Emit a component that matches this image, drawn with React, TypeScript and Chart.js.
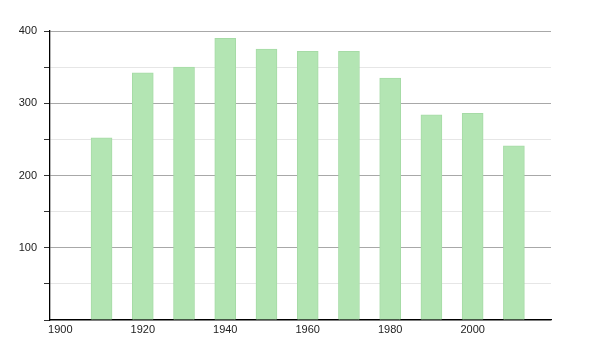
import React, { useEffect, useRef } from "react";
import { Chart, registerables } from "chart.js";

Chart.register(...registerables);

const years = [1910, 1920, 1930, 1940, 1950, 1960, 1970, 1980, 1990, 2000, 2010];
const population = [252, 342, 350, 390, 375, 372, 372, 335, 284, 286, 241];
const xTickValues = [1900, 1920, 1940, 1960, 1980, 2000];
const yTickValues = [0, 50, 100, 150, 200, 250, 300, 350, 400];
const yLabelValues = [100, 200, 300, 400];

export default function App() {
  const ref = useRef<HTMLCanvasElement | null>(null);

  useEffect(() => {
    document.body.style.margin = "0";
    const canvas = ref.current;
    if (!canvas) return;
    const chart = new Chart(canvas, {
      type: "bar",
      data: {
        datasets: [
          {
            data: years.map((y, i) => ({ x: y, y: population[i] })),
            backgroundColor: "#b3e5b3",
            borderColor: "#a6dba6",
            borderWidth: 1,
            barThickness: 21,
          },
        ],
      },
      options: {
        animation: false,
        responsive: false,
        maintainAspectRatio: false,
        layout: { padding: { top: 31, right: 49, left: 0, bottom: 0 } },
        plugins: { legend: { display: false }, tooltip: { enabled: false } },
        scales: {
          x: {
            type: "linear",
            min: 1897.5,
            max: 2019,
            offset: false,
            afterBuildTicks: (scale: any) => {
              scale.ticks = xTickValues.map((v) => ({ value: v }));
            },
            afterFit: (scale: any) => {
              scale.height = 30;
            },
            grid: { display: false, drawTicks: false },
            border: { display: true, color: "#000", width: 1.3 },
            ticks: {
              padding: 3,
              color: "#222",
              font: { family: "Liberation Sans, Arial, sans-serif", size: 11 },
              callback: (v: any) => String(v),
              maxRotation: 0,
              autoSkip: false,
            },
          },
          y: {
            min: 0,
            max: 400,
            afterBuildTicks: (scale: any) => {
              scale.ticks = yTickValues.map((v) => ({ value: v }));
            },
            afterFit: (scale: any) => {
              scale.width = 50;
            },
            grid: {
              color: (ctx: any) =>
                ctx.tick && ctx.tick.value % 100 === 0 ? "#a8a8a8" : "#e6e6e6",
              tickColor: "#333",
              tickLength: 6,
              drawTicks: true,
            },
            border: { display: true, color: "#000", width: 1.3 },
            ticks: {
              padding: 7,
              color: "#222",
              font: { family: "Liberation Sans, Arial, sans-serif", size: 11 },
              autoSkip: false,
              callback: (v: any) => (yLabelValues.includes(Number(v)) ? String(v) : ""),
            },
          },
        },
      },
    });
    return () => chart.destroy();
  }, []);

  return (
    <div style={{ width: 600, height: 350 }}>
      <canvas ref={ref} width={600} height={350} style={{ display: "block" }} />
    </div>
  );
}
